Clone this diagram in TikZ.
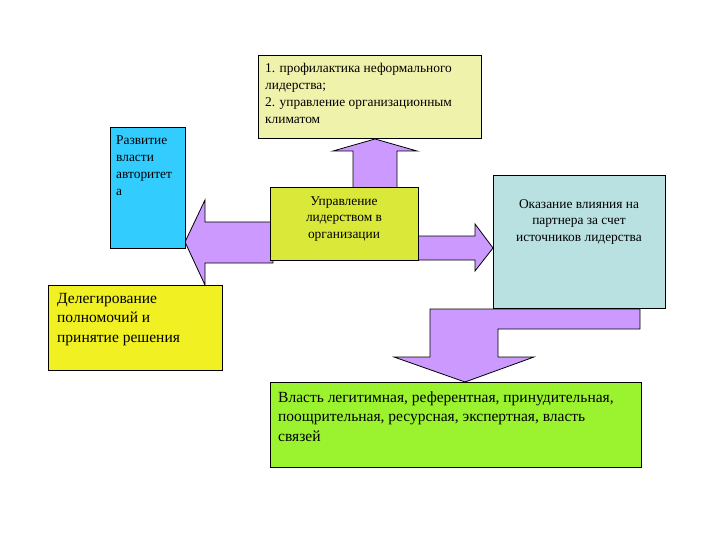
\documentclass[tikz,border=0pt]{standalone}
\usepackage{fontspec}
\setmainfont{Liberation Serif}
\definecolor{arrowc}{RGB}{204,153,255}
\definecolor{topc}{RGB}{238,242,170}
\definecolor{bluec}{RGB}{51,204,255}
\definecolor{centc}{RGB}{218,232,58}
\definecolor{rightc}{RGB}{185,225,226}
\definecolor{delc}{RGB}{240,240,34}
\definecolor{botc}{RGB}{155,242,46}
\begin{document}
\begin{tikzpicture}[x=1pt,y=-1pt,
  box/.style={draw=black, line width=0.8pt, inner sep=0pt, anchor=north west},
  arr/.style={draw=black, line width=0.8pt, fill=arrowc, line join=miter},
  txt/.style={inner sep=0pt, font=\fontsize{13.4}{16.8}\selectfont},
  bigtxt/.style={inner sep=0pt, font=\fontsize{15.5}{19.5}\selectfont}]
\useasboundingbox (0,0) rectangle (720,540);
% block arrows
\draw[arr] (353,190) -- (353,151) -- (333,151) -- (375,139) -- (417,151) -- (397,151) -- (397,190) -- cycle;
\draw[arr] (273,222) -- (205,222) -- (205,200) -- (185,242) -- (205,285) -- (205,263) -- (273,263) -- cycle;
\draw[arr] (415,236) -- (475,236) -- (475,224) -- (493,248) -- (475,271) -- (475,260) -- (415,260) -- cycle;
\draw[arr] (640,309) -- (640,329) -- (498,329) -- (498,357) -- (534,357) -- (465,382) -- (394,357) -- (430,357) -- (430,309) -- cycle;
% boxes
\node[box, fill=topc, minimum width=223pt, minimum height=83pt] (top) at (258,55) {};
\node[box, fill=bluec, minimum width=75pt, minimum height=121pt] (left) at (110,127) {};
\node[box, fill=centc, minimum width=148pt, minimum height=73pt] (cent) at (270,187) {};
\node[box, fill=rightc, minimum width=172pt, minimum height=133pt] (right) at (493,175) {};
\node[box, fill=delc, minimum width=174pt, minimum height=85pt] (del) at (48,285) {};
\node[box, fill=botc, minimum width=371pt, minimum height=85pt] (bot) at (270,382) {};
% texts (base anchor = baseline of the last line)
\node[txt, anchor=base west, align=left] (toptxt) at (265,123.4)
  {1. профилактика неформального\\лидерства;\\2. управление организационным\\климатом};
\node[txt, anchor=base west, align=left] (lefttxt) at (116,195.4)
  {Развитие\\власти\\авторитет\\а};
\node[txt, anchor=base, align=center] (centtxt) at (344,238.6)
  {Управление\\лидерством в\\организации};
\node[txt, anchor=base, align=center] (righttxt) at (579,241.6)
  {Оказание влияния на\\партнера за счет\\источников лидерства};
\node[bigtxt, anchor=base west, align=left] (deltxt) at (57,342)
  {Делегирование\\полномочий и\\принятие решения};
\node[bigtxt, anchor=base west, align=left] (bottxt) at (278,441)
  {Власть легитимная, референтная, принудительная,\\поощрительная, ресурсная, экспертная, власть\\связей};
\end{tikzpicture}
\end{document}
